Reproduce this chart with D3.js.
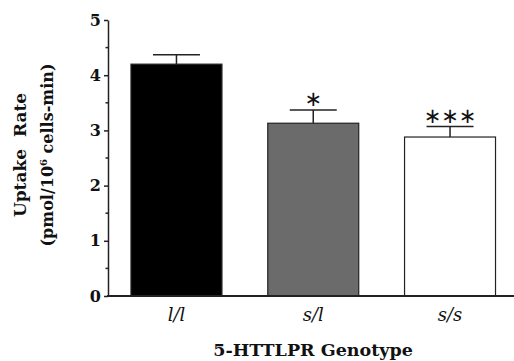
<!DOCTYPE html>
<html lang="en">
<head>
<meta charset="UTF-8">
<title>5-HTTLPR uptake rate</title>
<script src="https://cdn.jsdelivr.net/npm/d3@7"></script>
<style>
    body{ margin:0; background:#fff; }
    svg text{ font-family: "DejaVu Serif", "Liberation Serif", serif; fill:#111; }
    .tick text{ font-size:16px; font-weight:bold; }
    .axis path, .axis line{ stroke:#222; stroke-width:1.5px; }
    .err{ stroke:#222; stroke-width:1.5px; fill:none; }
</style>
</head>
<body>
<svg id="chart"></svg>
<script>
    const width = 514, height = 361;

    // data
    const genotypes = ['l/l', 's/l', 's/s'];
    const means = [4.20, 3.13, 2.88];
    const sems = [0.17, 0.24, 0.19];
    const stars = ['', '*', '***'];
    const fills = ['#000000', '#6b6b6b', '#ffffff'];
    const yTicks = [0, 1, 2, 3, 4, 5];
    const yMinor = [0.5, 1.5, 2.5, 3.5, 4.5];

    let svg = d3.select('#chart').attr('width', width).attr('height', height);

    let x = d3.scaleBand().domain(genotypes)
        .range([108, 518.5]).paddingInner(0.335).paddingOuter(0.168);
    let y = d3.scaleLinear().domain([0, 5]).range([296, 20]);

    // bars
    svg.append('g').selectAll('rect')
        .data(genotypes).enter().append('rect')
        .attr('x', d => x(d))
        .attr('width', x.bandwidth())
        .attr('y', (d, i) => y(means[i]))
        .attr('height', (d, i) => y(0) - y(means[i]))
        .attr('fill', (d, i) => fills[i])
        .attr('stroke', '#222')
        .attr('stroke-width', 1.2);

    // error bars (upper only)
    let eb = svg.append('g').attr('class', 'err');
    genotypes.forEach((g, i) => {
        let cx = x(g) + x.bandwidth() / 2;
        let top = y(means[i] + sems[i]);
        eb.append('line').attr('x1', cx).attr('x2', cx)
            .attr('y1', y(means[i])).attr('y2', top);
        eb.append('line').attr('x1', cx - 23.5).attr('x2', cx + 23.5)
            .attr('y1', top).attr('y2', top);
        if (stars[i]) {
            svg.append('text')
                .attr('x', cx).attr('y', top - 4)
                .attr('text-anchor', 'middle')
                .style('font-size', '21px')
                .style('font-family', '"DejaVu Sans", sans-serif')
                .text(stars[i].split('').map(() => '\u2217').join(''));
        }
    });

    // y axis
    let yAxis = svg.append('g').attr('class', 'axis')
        .attr('transform', 'translate(108,0)')
        .call(d3.axisLeft(y).tickValues(yTicks).tickSize(4).tickSizeOuter(0).tickPadding(3).tickFormat(d3.format('d')));
    yAxis.selectAll('.minor').data(yMinor).enter().append('line')
        .attr('x1', -2.5).attr('x2', 0)
        .attr('y1', d => y(d)).attr('y2', d => y(d))
        .attr('stroke', '#222').attr('stroke-width', 1.5);

    // x axis line
    svg.append('line')
        .attr('x1', 107).attr('x2', width)
        .attr('y1', y(0)).attr('y2', y(0))
        .attr('stroke', '#222').attr('stroke-width', 1.8);

    // category labels
    svg.append('g').selectAll('text')
        .data(genotypes).enter().append('text')
        .attr('x', d => x(d) + x.bandwidth() / 2)
        .attr('y', 321)
        .attr('text-anchor', 'middle')
        .style('font-size', '18px')
        .style('font-style', 'italic')
        .text(d => d);

    // axis titles
    svg.append('text')
        .attr('x', 313).attr('y', 356)
        .attr('text-anchor', 'middle')
        .style('font-size', '17.5px').style('font-weight', 'bold')
        .text('5-HTTLPR Genotype');

    let yt = svg.append('g').attr('transform', 'translate(0,155) rotate(-90)');
    yt.append('text')
        .attr('x', 0).attr('y', 26)
        .attr('text-anchor', 'middle')
        .style('font-size', '17px').style('font-weight', 'bold')
        .attr('xml:space', 'preserve')
        .text('Uptake  Rate');
    let t2 = yt.append('text')
        .attr('x', 0).attr('y', 53)
        .attr('text-anchor', 'middle')
        .style('font-size', '16px').style('font-weight', 'bold');
    t2.append('tspan').text('(pmol/10');
    t2.append('tspan').attr('dy', -6).style('font-size', '10px').text('6');
    t2.append('tspan').attr('dy', 6).text(' cells-min)');
</script>
</body>
</html>
